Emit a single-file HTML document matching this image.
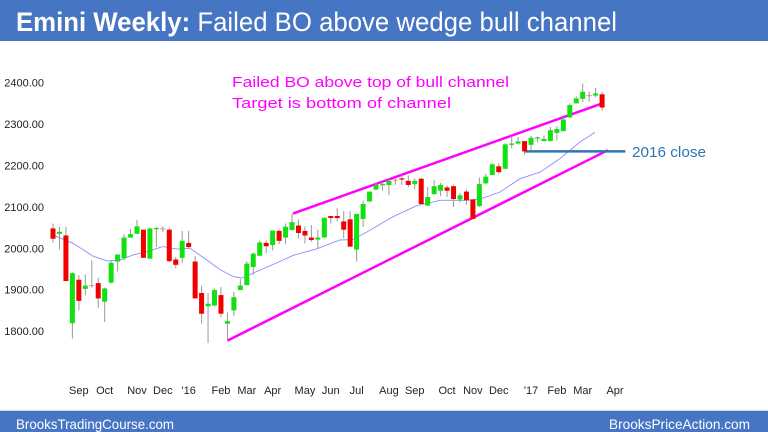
<!DOCTYPE html>
<html><head><meta charset="utf-8"><style>
html,body{margin:0;padding:0;background:#fff;}
svg{display:block;font-family:"Liberation Sans",sans-serif;}
</style></head><body>
<svg id="chart" width="768" height="432" viewBox="0 0 768 432">
<rect x="0" y="0" width="768" height="41" fill="#4675c3"/>
<text x="16" y="31" font-size="27" fill="#fff" textLength="601" lengthAdjust="spacingAndGlyphs"><tspan font-weight="bold">Emini Weekly:</tspan> Failed BO above wedge bull channel</text>
<rect x="0" y="411" width="768" height="21" fill="#4675c3"/>
<line x1="0" y1="410.5" x2="768" y2="410.5" stroke="#cfd8e8" stroke-width="1"/>
<text x="16" y="429" font-size="14" fill="#fff" textLength="158" lengthAdjust="spacingAndGlyphs">BrooksTradingCourse.com</text>
<text x="609" y="429" font-size="14" fill="#fff" textLength="141" lengthAdjust="spacingAndGlyphs">BrooksPriceAction.com</text>
<g id="yaxis"></g><g id="xaxis"></g><g id="ma"></g><g id="lines"></g><g id="candles"></g>
<text x="232" y="87" font-size="15" fill="#ff00ff" textLength="277" lengthAdjust="spacingAndGlyphs">Failed BO above top of bull channel</text>
<text x="232" y="108" font-size="15" fill="#ff00ff" textLength="219" lengthAdjust="spacingAndGlyphs">Target is bottom of channel</text>
<text x="632" y="157" font-size="15" fill="#2e75b6" textLength="74" lengthAdjust="spacingAndGlyphs">2016 close</text>
</svg>
<script>
const opens=[2048,2035,2031,1819,1924,1902,1911,1916,1871,1917,1968,1976,2026,2035,2045,1975,2046,2048,2045,1973,1977,2013,1968,1892,1860,1862,1887,1818,1850,1899,1911,1955,1982,2013,2008,2042,2026,2044,2055,2042,2026,2021,2026,2078,2078,2065,2070,1997,2071,2113,2142,2152,2153,2166,2169,2163,2155,2168,2103,2131,2139,2147,2150,2118,2137,2118,2102,2157,2177,2198,2192,2250,2253,2259,2250,2265,2259,2259,2279,2283,2316,2350,2361,2370,2369,2372];
const closes=[2023,2040,1921,1940,1873,1910,1911,1879,1903,1965,1985,2026,2034,2053,1977,2048,2049,2048,1969,1960,2018,2003,1879,1842,1866,1899,1842,1824,1882,1910,1963,1987,2014,2005,2043,2018,2052,2063,2037,2031,2020,2026,2074,2073,2073,2045,2004,2083,2107,2137,2153,2155,2163,2166,2166,2153,2163,2107,2124,2150,2153,2139,2119,2128,2116,2071,2155,2173,2203,2184,2251,2253,2258,2234,2267,2268,2264,2285,2288,2311,2346,2362,2378,2370,2374,2340];
const highs=[2060,2052,2052,1942,1935,1937,1971,1929,1905,1971,1985,2034,2047,2069,2045,2050,2052,2053,2048,1979,2042,2042,1981,1910,1892,1902,1906,1845,1895,1926,1969,1990,2019,2019,2043,2045,2060,2084,2070,2053,2056,2045,2074,2078,2097,2090,2090,2083,2115,2137,2157,2160,2168,2169,2176,2176,2169,2171,2148,2165,2158,2152,2153,2134,2142,2118,2171,2180,2205,2205,2254,2272,2269,2259,2272,2270,2272,2293,2295,2316,2350,2367,2398,2378,2387,2378];
const lows=[2013,1997,1921,1782,1850,1886,1905,1856,1822,1915,1944,1971,2026,2035,1977,1975,2003,2040,1966,1952,1965,1999,1879,1818,1771,1860,1834,1779,1837,1899,1911,1936,1982,1989,1995,2010,2010,2044,2024,2012,2016,1999,2026,2060,2066,2024,2004,1968,2052,2113,2140,2139,2128,2153,2153,2148,2142,2107,2103,2129,2126,2124,2100,2111,2105,2071,2100,2155,2177,2180,2192,2242,2250,2226,2237,2256,2258,2259,2261,2283,2316,2350,2353,2354,2365,2333];
const maIdx=[0,3.1,6.2,8.4,10.4,12.4,14.6,17,19.2,21.2,23.8,25.9,27.9,29.3,31,35.1,37.2,40.9,44.4,46.4,49.1,52.6,56.3,59.9,64.1,66.1,69.2,72.3,75.4,78.5,81.6,83.9];
const maVals=[2032,2012,1981,1969,1972,1984,1992,2004,1998,2000,1972,1948,1932,1928,1940,1968,1983,1999,2020,2021,2044,2076,2103,2116,2116,2119,2136,2168,2184,2217,2257,2280];
const yTicks=[2400,2300,2200,2100,2000,1900,1800];
const monthLabels=["Sep","Oct","Nov","Dec","'16","Feb","Mar","Apr","May","Jun","Jul","Aug","Sep","Oct","Nov","Dec","'17","Feb","Mar","Apr"];
const monthIdx=[4,8,13,17,21,26,30,34,39,43,47,52,56,61,65,69,74,78,82,87];
const upperChannel=[[37.15,2084],[85,2350]];
const lowerChannel=[[27,1777],[85.9,2237]];
const close2016=2234, close2016Start=73, close2016End=88.6;

const NS="http://www.w3.org/2000/svg";
const xs=i=>53+i*6.46;
const ys=p=>82.7+(2400-p)*0.414;
function mk(tag,attrs,parent){const e=document.createElementNS(NS,tag);for(const k in attrs)e.setAttribute(k,attrs[k]);document.getElementById(parent).appendChild(e);return e;}

yTicks.forEach(v=>{
  const t=mk('text',{x:44,y:ys(v)+4,'font-size':11,fill:'#222','text-anchor':'end'},'yaxis');
  t.textContent=v.toFixed(2);
  
  
});
monthLabels.forEach((m,i)=>{
  const t=mk('text',{x:xs(monthIdx[i]),y:394,'font-size':11,fill:'#222','text-anchor':'middle'},'xaxis');
  t.textContent=m;
  
  
});
const pts=maIdx.map((v,i)=>xs(v).toFixed(1)+','+ys(maVals[i]).toFixed(1)).join(' ');
const ma=mk('polyline',{points:pts,fill:'none',stroke:'#8c8cff','stroke-width':0.9},'ma');



const u=mk('line',{x1:xs(upperChannel[0][0]),y1:ys(upperChannel[0][1]),x2:xs(upperChannel[1][0]),y2:ys(upperChannel[1][1]),stroke:'#ff00ff','stroke-width':2.5},'lines');


const l=mk('line',{x1:xs(lowerChannel[0][0]),y1:ys(lowerChannel[0][1]),x2:xs(lowerChannel[1][0]),y2:ys(lowerChannel[1][1]),stroke:'#ff00ff','stroke-width':2.5},'lines');


const h=mk('line',{x1:xs(close2016Start),y1:ys(close2016),x2:xs(close2016End),y2:ys(close2016),stroke:'#2e75b6','stroke-width':2.5},'lines');



opens.forEach((o,i)=>{
  const c=closes[i],x=xs(i);
  const w=mk('line',{x1:x,x2:x,y1:ys(highs[i]),y2:ys(lows[i]),stroke:'#999','stroke-width':1},'candles');
  
  
  const top=ys(Math.max(o,c)),bot=ys(Math.min(o,c));
  const col=c>o?'#11e011':(c<o?'#f20000':'#f08080');
  const b=mk('rect',{x:x-2.5,y:top,width:5,height:Math.max(1,bot-top),fill:col},'candles');
  
  
});
</script>
</body></html>
